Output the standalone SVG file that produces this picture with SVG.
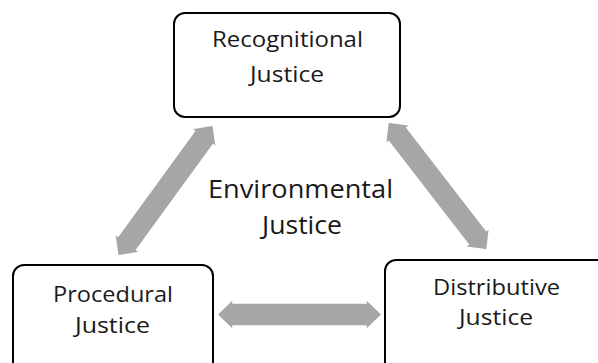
<svg xmlns="http://www.w3.org/2000/svg" width="598" height="363" viewBox="0 0 598 363">
<style>
.box{fill:#fff;stroke:#000;stroke-width:2}
.t{font-family:"Open Sans","Liberation Sans",sans-serif;font-size:22px;fill:#1a1a1a}
.c{font-family:"Open Sans","Liberation Sans",sans-serif;font-size:26px;fill:#1a1a1a}
.arr{fill:#a6a6a6;stroke:#fff;stroke-width:1.5;stroke-linejoin:miter}
</style>
<rect width="598" height="363" fill="#fff"/>
<g id="connectors">
<polygon class="arr" transform="translate(165.5,190.5) rotate(-54)" points="-81,0 -65,-15.5 -65,-11.5 65,-11.5 65,-15.5 81,0 65,15.5 65,11.5 -65,11.5 -65,15.5"/>
<polygon class="arr" transform="translate(437.5,186) rotate(52.3)" points="-81,0 -65,-15.5 -65,-11.5 65,-11.5 65,-15.5 81,0 65,15.5 65,11.5 -65,11.5 -65,15.5"/>
<polygon class="arr" transform="translate(299.5,314.5)" points="-82.5,0 -66.5,-15.5 -66.5,-11.5 66.5,-11.5 66.5,-15.5 82.5,0 66.5,15.5 66.5,11.5 -66.5,11.5 -66.5,15.5"/>
</g>
<g id="recognitional">
<rect class="box" x="174" y="13" width="226" height="104" rx="11"/>
<text class="t" x="212" y="47" textLength="151" lengthAdjust="spacingAndGlyphs">Recognitional</text>
<text class="t" x="250" y="82" textLength="74" lengthAdjust="spacingAndGlyphs">Justice</text>
</g>
<g id="procedural">
<rect class="box" x="13" y="265" width="200" height="110" rx="11"/>
<text class="t" x="53" y="302" textLength="120" lengthAdjust="spacingAndGlyphs">Procedural</text>
<text class="t" x="75" y="333" textLength="75" lengthAdjust="spacingAndGlyphs">Justice</text>
</g>
<g id="distributive">
<rect class="box" x="385" y="260" width="225" height="115" rx="11"/>
<text class="t" x="433" y="295" textLength="127" lengthAdjust="spacingAndGlyphs">Distributive</text>
<text class="t" x="459" y="325" textLength="74" lengthAdjust="spacingAndGlyphs">Justice</text>
</g>
<g id="environmental">
<text class="c" x="208" y="198" textLength="185" lengthAdjust="spacingAndGlyphs">Environmental</text>
<text class="c" x="262" y="234" textLength="80" lengthAdjust="spacingAndGlyphs">Justice</text>
</g>
</svg>
